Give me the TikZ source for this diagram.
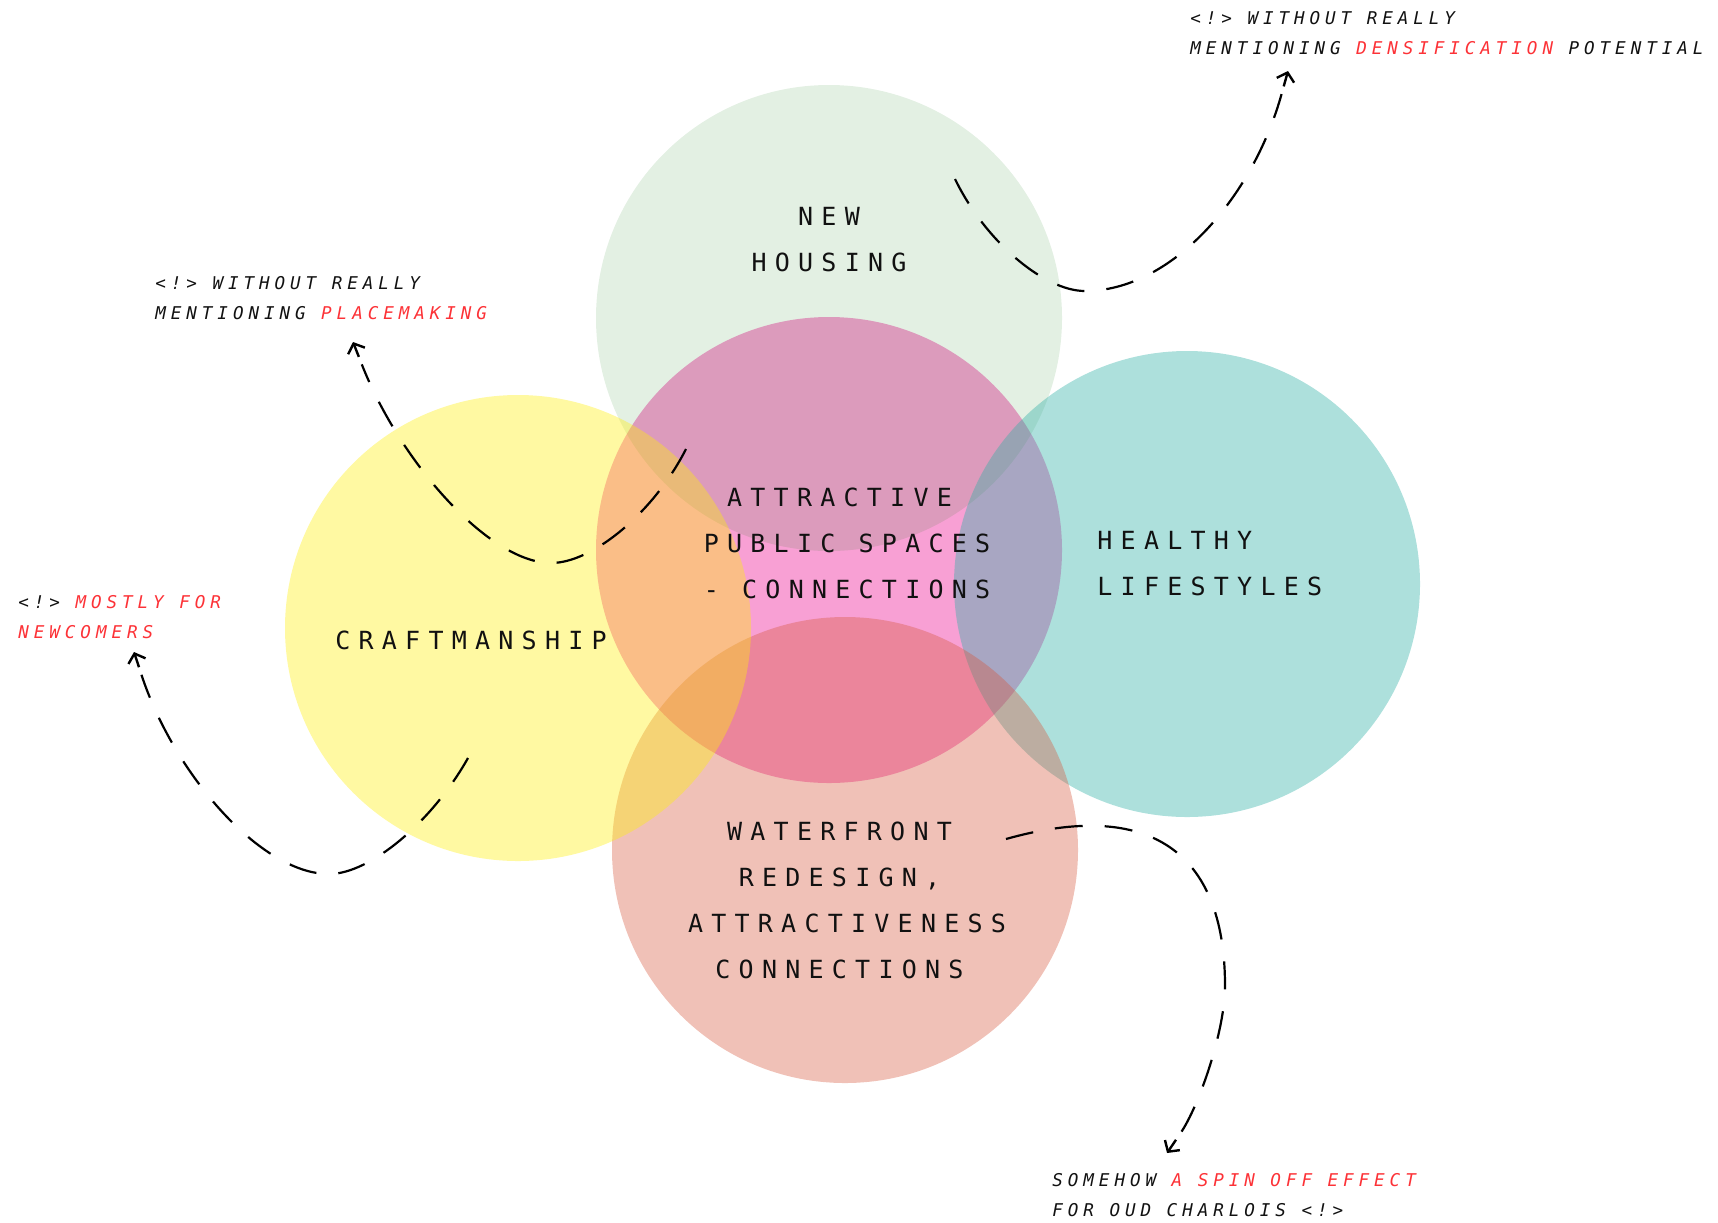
\documentclass[tikz,border=0pt]{standalone}
\usepackage{fontspec}
\usepackage{xcolor}
\usepackage{tikz}
\usetikzlibrary{arrows.meta,calc}
\newfontfamily\venlabel{DejaVu Sans Mono}[LetterSpace=33]
\newfontfamily\vennote{DejaVu Sans Mono}[LetterSpace=28]
\definecolor{spacepink}{RGB}{248,160,212}
\definecolor{housegreen}{RGB}{0,115,0}
\definecolor{healthteal}{RGB}{50,177,167}
\definecolor{watersalmon}{RGB}{214,87,60}
\definecolor{craftyellow}{RGB}{255,239,10}
\definecolor{notered}{RGB}{252,50,55}
\definecolor{inkblack}{RGB}{17,17,17}

\begin{document}
\begin{tikzpicture}[x=0.5pt,y=-0.5pt,
  lbl/.style={font=\venlabel\fontsize{12.5}{23}\selectfont, inner sep=0pt, align=center, text=inkblack},
  note/.style={font=\vennote\itshape\fontsize{8.8}{15.4}\selectfont, inner sep=0pt, align=left, anchor=west, text=inkblack},
  remark/.style={line width=1.1pt, dash pattern=on 14pt off 11pt, shorten >=12pt},
  remarktip/.style={line width=1.2pt, -{Straight Barb[length=4pt,width=9pt]}}]

  \useasboundingbox (0,0) rectangle (1718,1222);

  % circles, pink one first and opaque
  \fill[spacepink] (829,550) circle[radius=233];
  \fill[housegreen, fill opacity=0.11] (829,318) circle[radius=233];
  \fill[healthteal, fill opacity=0.4] (1187,584) circle[radius=233];
  \fill[watersalmon, fill opacity=0.37] (845,850) circle[radius=233];
  \fill[craftyellow, fill opacity=0.38] (518,628) circle[radius=233];

  \node[lbl] (housing) at (829,240) {NEW\\HOUSING};
  \node[lbl] (spaces) at (847,543) {ATTRACTIVE\hphantom{X}\\PUBLIC SPACES\\- CONNECTIONS};
  \node[lbl, align=left, anchor=west] (healthy) at (1097,564) {HEALTHY\\LIFESTYLES};
  \node[lbl] (waterfront) at (847,900) {WATERFRONT\hphantom{X}\\REDESIGN,\hphantom{X}\\ATTRACTIVENESS\\CONNECTIONS\hphantom{X}};
  \node[lbl] (craft) at (471,640) {CRAFTMANSHIP};

  \node[note] (densnote) at (1190,33) {<!> WITHOUT REALLY\\MENTIONING \textcolor{notered}{DENSIFICATION} POTENTIAL};
  \node[note] (placenote) at (155,298) {<!> WITHOUT REALLY\\MENTIONING \textcolor{notered}{PLACEMAKING}};
  \node[note] (newnote) at (18,617) {<!> \textcolor{notered}{MOSTLY FOR}\\\textcolor{notered}{NEWCOMERS}};
  \node[note] (spinnote) at (1052,1195) {SOMEHOW \textcolor{notered}{A SPIN OFF EFFECT}\\FOR OUD CHARLOIS <!>};

  \coordinate (dens-from) at (955,179);
  \coordinate (dens-low) at (1085,291);
  \coordinate (dens-to) at (1288,71);
  \coordinate (place-from) at (686,449);
  \coordinate (place-low) at (551,563);
  \coordinate (place-to) at (353,342);
  \coordinate (new-from) at (468,758);
  \coordinate (new-low) at (329,874);
  \coordinate (new-to) at (134,652);
  \coordinate (spin-from) at (1006,839);
  \coordinate (spin-side) at (1225,986);
  \coordinate (spin-to) at (1167,1153);

  \draw[remark] (dens-from) .. controls (985,241) and (1044,291) .. (dens-low)
     .. controls (1170,291) and (1252,200) .. (dens-to);
  \draw[remark] (place-from) .. controls (654,512) and (593,563) .. (place-low)
     .. controls (490,563) and (401,464) .. (place-to);
  \draw[remark] (new-from) .. controls (432,822) and (370,874) .. (new-low)
     .. controls (261,874) and (174,774) .. (new-to);
  \draw[remark] (spin-from) .. controls (1148,799) and (1225,850) .. (spin-side)
     .. controls (1225,1031) and (1199,1106) .. (spin-to);

  % solid heads at the note ends
  \draw[remarktip] ($(dens-to)!8pt!(1252,200)$) -- (dens-to);
  \draw[remarktip] ($(place-to)!8pt!(401,464)$) -- (place-to);
  \draw[remarktip] ($(new-to)!8pt!(174,774)$) -- (new-to);
  \draw[remarktip] ($(spin-to)!8pt!(1199,1106)$) -- (spin-to);

\end{tikzpicture}
\end{document}
